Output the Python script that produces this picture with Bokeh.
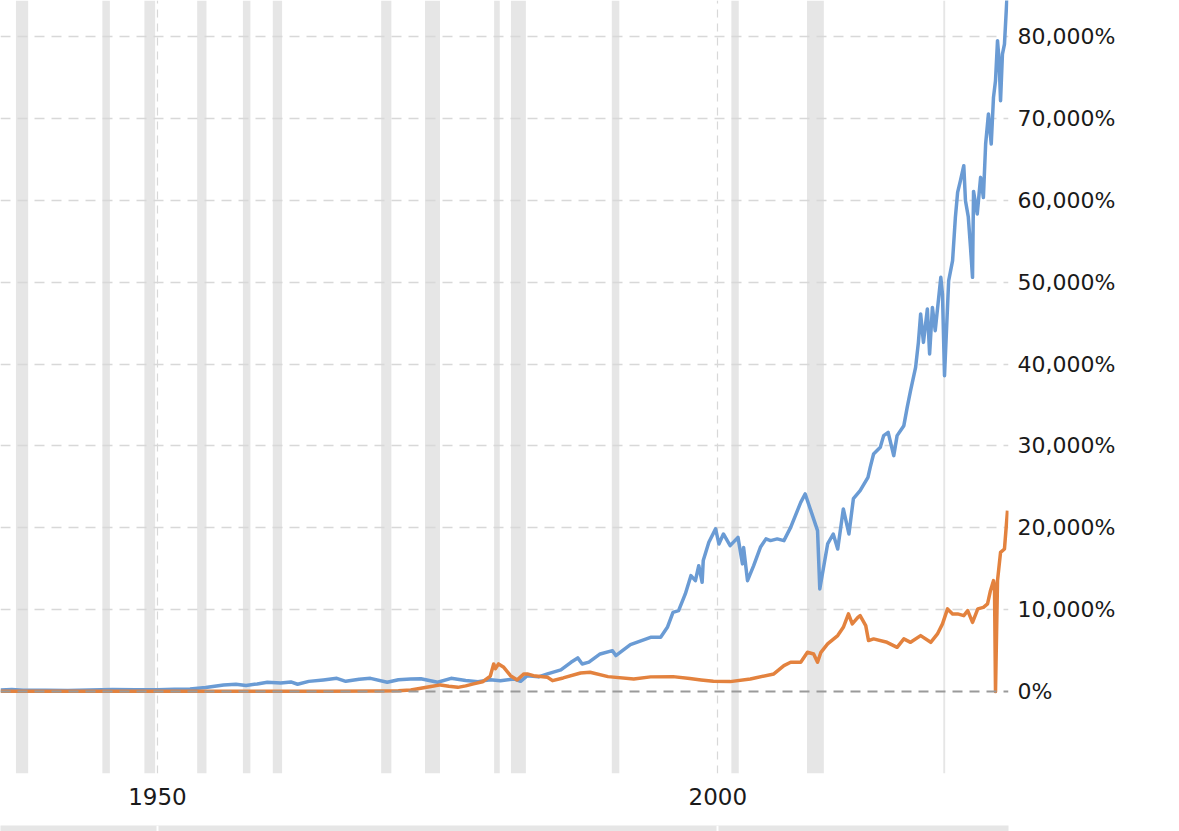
from bokeh.plotting import figure
from bokeh.layouts import column
from bokeh.models import Range1d, FixedTicker, Span, ColumnDataSource
from bokeh.embed import file_html
from bokeh.resources import INLINE

# ---- data ----
blue_years = [1936.0, 1937.0, 1938.0, 1940.0, 1942.0, 1944.0, 1946.0, 1948.0, 1950.0, 1951.5,
              1952.9, 1954.3, 1955.9, 1957.0, 1957.9, 1958.9, 1959.8, 1961.0, 1961.9, 1962.5,
              1963.5, 1964.8, 1966.0, 1966.8, 1968.0, 1969.0, 1970.5, 1971.5, 1972.6, 1973.5,
              1975.0, 1976.2, 1977.5, 1978.6, 1979.7, 1980.6, 1981.8, 1982.4, 1983.0, 1984.0,
              1984.8, 1986.0, 1986.9, 1987.5, 1987.9, 1988.5, 1989.5, 1990.6, 1990.9, 1992.2,
              1994.0, 1994.9, 1995.5, 1996.0, 1996.5, 1997.1, 1997.6, 1998.0, 1998.3, 1998.6,
              1998.7, 1999.2, 1999.8, 2000.1, 2000.5, 2001.1, 2001.8, 2002.2, 2002.3, 2002.65,
              2003.2, 2003.8, 2004.3, 2004.7, 2005.3, 2005.9, 2006.5, 2007.4, 2007.8, 2008.3,
              2008.9, 2009.1, 2009.8, 2010.3, 2010.7, 2011.2, 2011.7, 2012.1, 2012.7, 2013.4,
              2013.6, 2013.9, 2014.5, 2014.8, 2015.2, 2015.7, 2016.0, 2016.6, 2016.9, 2017.2,
              2017.65, 2017.9, 2018.1, 2018.35, 2018.7, 2018.9, 2019.15, 2019.4, 2019.9, 2020.05,
              2020.23, 2020.6, 2020.95, 2021.2, 2021.4, 2021.65, 2021.95, 2022.1, 2022.35, 2022.55,
              2022.73, 2022.82, 2023.15, 2023.45, 2023.7, 2023.9, 2024.15, 2024.4, 2024.6, 2024.78,
              2024.96, 2025.1, 2025.23, 2025.4, 2025.58, 2025.85]
blue_pct = [210, 260, 180, 170, 150, 190, 250, 220, 230, 300,
            330, 500, 820, 900, 760, 940, 1135, 1060, 1180, 900,
            1250, 1430, 1620, 1260, 1500, 1620, 1135, 1450, 1550, 1580,
            1150, 1620, 1350, 1220, 1450, 1340, 1550, 1260, 1950, 1800,
            2160, 2650, 3580, 4115, 3380, 3600, 4600, 5000, 4400, 5740,
            6630, 6630, 7850, 9680, 9890, 11930, 14160, 13550, 15380, 13350,
            16000, 18230, 19870, 18030, 19250, 17830, 18840, 15600, 17600, 13550,
            15380, 17620, 18650, 18440, 18650, 18440, 20060, 23110, 24140, 22100,
            19660, 12540, 18030, 19250, 17420, 22310, 19250, 23570, 24540, 26170,
            27390, 29020, 29830, 31260, 31660, 28820, 31260, 32480, 34710, 36750,
            39600, 42650, 46120, 42650, 46730, 41230, 46920, 44080, 50590, 48500,
            38580, 50180, 52630, 57910, 60970, 62390, 64230, 59950, 58000, 54250,
            50590, 61090, 58330, 62800, 60350, 66880, 70540, 66880, 72570, 74600,
            79490, 77050, 72160, 77860, 79080, 86000]

orange_years = [1936.0, 1940.0, 1945.0, 1950.0, 1955.0, 1960.0, 1965.0, 1970.0, 1971.5, 1972.6,
                1973.5, 1974.4, 1975.25, 1976.0, 1976.8, 1977.5, 1978.2, 1979.0, 1979.7, 1980.0,
                1980.16, 1980.43, 1980.9, 1981.5, 1982.1, 1982.7, 1983.0, 1983.55, 1984.8, 1985.25,
                1986.2, 1987.75, 1988.6, 1990.2, 1992.5, 1994.0, 1996.0, 1997.5, 1998.5, 1999.6,
                2001.1, 2002.9, 2005.0, 2005.9, 2006.5, 2007.4, 2008.0, 2008.55, 2008.9, 2009.2,
                2009.8, 2010.7, 2011.2, 2011.66, 2012.0, 2012.5, 2012.7, 2013.2, 2013.45, 2013.9,
                2015.1, 2016.0, 2016.6, 2017.2, 2018.1, 2019.0, 2019.6, 2020.05, 2020.5, 2020.95,
                2021.4, 2021.95, 2022.3, 2022.73, 2023.2, 2023.7, 2024.07, 2024.33, 2024.6, 2024.69,
                2024.78, 2024.96, 2025.23, 2025.58, 2025.85]
orange_pct = [30, 30, 40, 40, 40, 50, 50, 60, 100, 200,
              400, 620, 820, 650, 520, 700, 940, 1200, 1900, 3380,
              2810, 3380, 2970, 1950, 1430, 2160, 2160, 1950, 1750, 1340,
              1670, 2280, 2360, 1830, 1550, 1800, 1830, 1600, 1430, 1260,
              1220, 1550, 2160, 3175, 3580, 3580, 4800, 4600, 3580, 4800,
              5820, 6840, 7850, 9490, 8270, 9070, 9280, 8060, 6230, 6440,
              6020, 5410, 6440, 6020, 6840, 6020, 7045, 8270, 10100, 9490,
              9490, 9280, 9890, 8460, 10100, 10290, 10710, 12330, 13550, 12940,
              0, 13550, 17010, 17420, 22100]

recession_start = [1937.37, 1945.08, 1948.83, 1953.54, 1957.62, 1960.29, 1969.96, 1973.87,
                   1980.04, 1981.54, 1990.54, 2001.21, 2007.96, 2020.12]
recession_end = [1938.46, 1945.75, 1949.79, 1954.37, 1958.29, 1961.12, 1970.87, 1975.21,
                 1980.54, 1982.87, 1991.21, 2001.87, 2009.46, 2020.29]

x_ticks = [1950, 2000]
y_ticks = [0, 10000, 20000, 30000, 40000, 50000, 60000, 70000, 80000]
y_tick_labels = ["0%", "10,000%", "20,000%", "30,000%", "40,000%", "50,000%",
                 "60,000%", "70,000%", "80,000%"]

X_START, X_END = 1935.99, 2025.94
Y_START, Y_END = -10000, 84400

BLUE = "#6a9bd4"
ORANGE = "#e3823e"
BAND = "#e6e6e6"
FONT = "DejaVu Sans"

p = figure(width=1179, height=822, output_backend="svg", toolbar_location=None,
           x_range=Range1d(X_START, X_END), y_range=Range1d(Y_START, Y_END),
           y_axis_location="right", min_border_left=0, min_border_right=171,
           min_border_top=0, min_border_bottom=49)
p.outline_line_color = None
p.background_fill_color = "white"
p.border_fill_color = "white"

# recession bands
bands = ColumnDataSource(dict(left=recession_start, right=recession_end))
p.quad(left="left", right="right", bottom=Y_START, top=Y_END, source=bands,
       fill_color=BAND, line_color=None, level="underlay")

# grids
p.ygrid.ticker = FixedTicker(ticks=y_ticks[1:])
p.ygrid.grid_line_color = "#d8d8d8"
p.ygrid.grid_line_width = 1.5
p.ygrid.grid_line_dash = "10 7"
p.xgrid.ticker = FixedTicker(ticks=x_ticks)
p.xgrid.grid_line_color = "#d8d8d8"
p.xgrid.grid_line_width = 1.2
p.xgrid.grid_line_dash = "8 6"

# series
p.line(blue_years, blue_pct, line_color=BLUE, line_width=3.5, line_join="round")
p.line(orange_years, orange_pct, line_color=ORANGE, line_width=3.5, line_join="round")

# zero line
p.add_layout(Span(location=0, dimension="width", line_color="#9a9a9a",
                  line_width=2, line_dash="10 7"))

# axes
p.xaxis.ticker = FixedTicker(ticks=x_ticks)
p.xaxis.axis_line_color = None
p.xaxis.major_tick_line_color = None
p.xaxis.minor_tick_line_color = None
p.xaxis.major_tick_out = 0
p.xaxis.major_label_standoff = 14
p.xaxis.major_label_text_font = FONT
p.xaxis.major_label_text_font_size = "23px"
p.xaxis.major_label_text_color = "#1a1a1a"

p.yaxis.ticker = FixedTicker(ticks=y_ticks)
p.yaxis.major_label_overrides = {t: l for t, l in zip(y_ticks, y_tick_labels)}
p.yaxis.axis_line_color = None
p.yaxis.major_tick_line_color = None
p.yaxis.minor_tick_line_color = None
p.yaxis.major_tick_out = 0
p.yaxis.major_label_standoff = 9
p.yaxis.major_label_text_font = FONT
p.yaxis.major_label_text_font_size = "22px"
p.yaxis.major_label_text_color = "#1a1a1a"

# navigator strip at the bottom
s = figure(width=1179, height=9, output_backend="svg", toolbar_location=None,
           x_range=p.x_range, y_range=Range1d(0, 1),
           min_border_left=0, min_border_right=169, min_border_top=0, min_border_bottom=0)
s.axis.visible = False
s.grid.visible = False
s.outline_line_color = None
s.background_fill_color = "#e6e6e6"
s.border_fill_color = "white"
s.xgrid.visible = True
s.xgrid.ticker = FixedTicker(ticks=x_ticks)
s.xgrid.grid_line_color = "white"
s.xgrid.grid_line_width = 2
s.xgrid.grid_line_dash = "solid"

layout = column(p, s, spacing=0)
open("out.html", "w").write(file_html(layout, INLINE))
